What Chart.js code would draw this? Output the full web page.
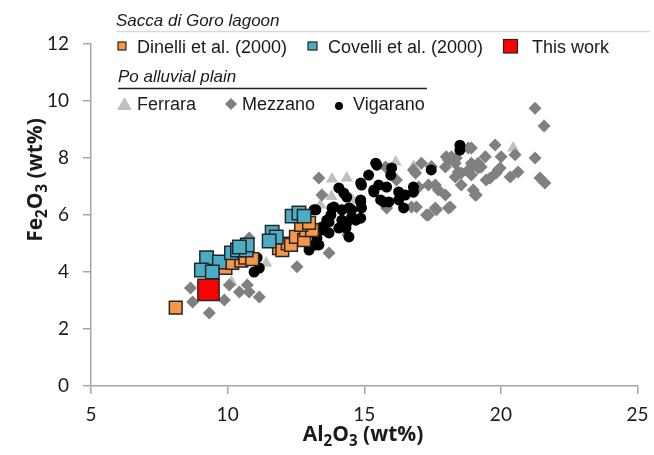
<!DOCTYPE html>
<html>
<head>
<meta charset="utf-8">
<script src="https://cdn.jsdelivr.net/npm/chart.js@4.4.0/dist/chart.umd.min.js"></script>
<style>
  html, body { margin: 0; padding: 0; background: #fff; }
  #wrap { width: 654px; height: 455px; }
</style>
</head>
<body>
<div id="wrap"><canvas id="geoChart" width="654" height="455"></canvas></div>
<script>
const xTicks = [5, 10, 15, 20, 25];
const yTicks = [0, 2, 4, 6, 8, 10, 12];

// [Al2O3, Fe2O3] in wt%
const dinelli = [[8.1,2.75],[9.92,4.14],[10.17,4.32],[10.5,4.4],[10.65,4.5],[10.9,4.45],[11.88,4.84],[12.0,4.77],
  [12.2,5.0],[12.32,4.95],[12.5,5.23],[12.8,5.12],[12.87,5.47],[13.09,5.47],[12.69,5.65],[12.98,5.72]];
const covelli = [[9.23,4.5],[9.7,4.35],[9.04,4.07],[9.44,4.0],[10.14,4.67],[10.36,4.77],[10.68,4.77],[10.72,4.95],
  [10.43,4.88],[11.63,5.4],[11.78,5.23],[11.52,5.09],[12.36,5.96],[12.61,6.07],[12.8,5.96]];
const thisWork = [[9.3,3.37]];
const ferrara = [[13.82,7.26],[14.36,7.3],[13.8,6.65],[16.15,7.86],[20.45,8.35],[14.6,6.5],[11.41,4.32],
  [10.14,3.65],[13.4,6.35],[16.8,7.7]];
const mezzano = [[9.33,2.56],[8.72,2.95],[8.64,3.44],[9.88,3.02],[10.43,3.3],[10.79,3.3],[11.16,3.12],[12.54,4.18],
  [10.79,5.19],[10.06,3.54],[10.72,3.54],[13.34,7.3],[13.71,4.67],[13.45,6.7],[14.4,5.3],
  [15.82,6.25],[16.91,6.28],[17.28,6.0],[17.6,6.25],[18.08,6.25],[17.97,6.7],[18.0,8.04],[18.37,8.0],[18.81,8.35],
  [18.92,7.82],[19.17,7.65],[19.43,8.04],[19.79,8.46],[19.61,7.3],[19.9,7.58],[18.99,6.88],[16.8,7.58],[17.09,7.82],
  [17.46,7.7],[18.33,7.33],[18.55,7.05],[17.6,7.05],[16.99,6.98],[15.78,7.68],[16.18,7.23],[16.88,7.47],[17.35,7.05],
  [17.71,6.88],[17.64,6.18],[17.35,6.0],[18.33,7.82],[18.55,7.47],[18.81,7.58],[19.17,7.82],[19.06,6.7],[18.08,7.93],
  [16.73,6.28],[21.25,9.75],[21.58,9.12],[18.92,8.35],[18.19,8.04],[20.01,8.04],[20.52,8.11],[21.25,8.0],[17.97,7.68],
  [18.44,7.51],[19.28,7.68],[19.97,7.65],[20.63,7.51],[20.34,7.33],[19.83,7.47],[19.46,7.23],[18.92,7.4],[21.61,7.12],
  [21.43,7.3],[19.1,6.7],[18.15,6.28]];
const vigarano = [[18.5,8.45],[18.5,8.28],[17.45,7.58],[15.42,7.82],[16.0,7.65],[15.97,7.4],[15.82,6.98],[15.35,6.88],
  [15.6,6.53],[14.9,7.05],[14.07,6.95],[14.36,6.63],[14.87,6.53],[16.26,6.81],[16.5,6.7],[16.8,6.98],[16.8,6.8],
  [16.26,6.53],[15.9,6.46],[16.44,6.25],[14.9,6.25],[14.44,6.25],[13.82,6.25],[14.54,5.93],[14.87,5.89],[14.18,5.82],
  [13.71,5.75],[13.52,5.47],[13.27,5.19],[13.34,4.95],[14.33,5.54],[14.44,5.23],[12.9,5.02],[13.16,6.18],[13.78,6.0],
  [15.46,7.75],[15.16,7.4],[15.53,7.05],[14.87,7.12],[14.25,6.77],[15.35,6.81],[15.71,6.46],[14.87,6.46],[13.89,6.28],
  [14.18,6.18],[14.54,6.18],[14.69,5.82],[14.36,5.72],[13.23,6.18],[10.97,4.0],[11.08,4.5],[11.16,4.14],[13.63,5.82],
  [13.45,5.58],[14.07,5.54],[13.71,5.37],[13.23,4.95],[12.98,4.77]];

const axisGray = '#a6a6a6';
const textColor = '#1a1a1a';

function toPoints(list) {
    return list.map(p => ({ x: p[0], y: p[1] }));
}

// text with subscripts, centered on x
function drawSubText(ctx, parts, x, y, size, family) {
    let total = 0;
    parts.forEach(p => {
        ctx.font = 'bold ' + (p[1] ? size * 0.72 : size) + 'px ' + family;
        total += ctx.measureText(p[0]).width;
    });
    let cx = x - total / 2;
    parts.forEach(p => {
        ctx.font = 'bold ' + (p[1] ? size * 0.72 : size) + 'px ' + family;
        ctx.fillText(p[0], cx, p[1] ? y + size * 0.22 : y);
        cx += ctx.measureText(p[0]).width;
    });
}

const overlay = {
    id: 'overlay',
    afterDraw(chart) {
        const ctx = chart.ctx;
        ctx.save();
        ctx.fillStyle = textColor;
        ctx.textAlign = 'left';
        ctx.textBaseline = 'alphabetic';

        // group headings
        ctx.font = 'italic 17px "Liberation Sans", Arial, sans-serif';
        ctx.fillText('Sacca di Goro lagoon', 116, 26);
        ctx.fillText('Po alluvial plain', 118, 82);
        ctx.strokeStyle = '#d9d9d9';
        ctx.lineWidth = 1.5;
        ctx.beginPath(); ctx.moveTo(116, 31.5); ctx.lineTo(650, 31.5); ctx.stroke();
        ctx.strokeStyle = '#222';
        ctx.lineWidth = 1.3;
        ctx.beginPath(); ctx.moveTo(118, 88.5); ctx.lineTo(427, 88.5); ctx.stroke();

        // row 1 markers
        ctx.strokeStyle = '#262626';
        ctx.lineWidth = 1.2;
        ctx.fillStyle = '#f79646';
        ctx.fillRect(118, 42, 8, 8); ctx.strokeRect(118, 42, 8, 8);
        ctx.fillStyle = '#4bacc6';
        ctx.fillRect(308, 42, 9, 8); ctx.strokeRect(308, 42, 9, 8);
        ctx.fillStyle = '#ff0000';
        ctx.fillRect(503.5, 39.5, 14, 13.5); ctx.strokeRect(503.5, 39.5, 14, 13.5);

        // row 2 markers
        ctx.fillStyle = '#c0c0c0';
        ctx.beginPath(); ctx.moveTo(124.5, 97); ctx.lineTo(132, 110); ctx.lineTo(117, 110); ctx.closePath(); ctx.fill();
        ctx.fillStyle = '#808080';
        ctx.beginPath(); ctx.moveTo(231, 98); ctx.lineTo(237, 104); ctx.lineTo(231, 110); ctx.lineTo(225, 104); ctx.closePath(); ctx.fill();
        ctx.fillStyle = '#000';
        ctx.beginPath(); ctx.arc(339, 106, 4, 0, Math.PI * 2); ctx.fill();

        ctx.fillStyle = textColor;
        ctx.font = '18px "Liberation Sans", Arial, sans-serif';
        ctx.fillText('Dinelli et al. (2000)', 137, 53);
        ctx.fillText('Covelli et al. (2000)', 328, 53);
        ctx.fillText('This work', 532, 53);
        ctx.fillText('Ferrara', 137, 110);
        ctx.fillText('Mezzano', 242, 110);
        ctx.fillText('Vigarano', 353, 110);

        // axis titles
        const fam = '"Open Sans", Lato, sans-serif';
        drawSubText(ctx, [['Al', false], ['2', true], ['O', false], ['3', true], [' (wt%)', false]], 363, 441, 21, fam);
        ctx.translate(42, 180);
        ctx.rotate(-Math.PI / 2);
        drawSubText(ctx, [['Fe', false], ['2', true], ['O', false], ['3', true], [' (wt%)', false]], 0, 0, 21, fam);
        ctx.restore();
    }
};

const tickFont = { family: 'Lato, "Open Sans", sans-serif', size: 19 };

new Chart(document.getElementById('geoChart'), {
    type: 'scatter',
    data: {
        datasets: [
            { label: 'This work', data: toPoints(thisWork), order: 0, pointStyle: 'rect',
              backgroundColor: '#ff0000', borderColor: '#262626', borderWidth: 1.5, pointRadius: 15 },
            { label: 'Covelli et al. (2000)', data: toPoints(covelli), order: 1, pointStyle: 'rect',
              backgroundColor: '#4bacc6', borderColor: '#262626', borderWidth: 1.5, pointRadius: 9.5 },
            { label: 'Dinelli et al. (2000)', data: toPoints(dinelli), order: 2, pointStyle: 'rect',
              backgroundColor: '#f79646', borderColor: '#262626', borderWidth: 1.5, pointRadius: 9 },
            { label: 'Vigarano', data: toPoints(vigarano), order: 3, pointStyle: 'circle',
              backgroundColor: '#000000', borderColor: '#000000', borderWidth: 0, pointRadius: 5.5 },
            { label: 'Mezzano', data: toPoints(mezzano), order: 4, pointStyle: 'rectRot',
              backgroundColor: '#808080', borderColor: '#808080', borderWidth: 0, pointRadius: 6.5 },
            { label: 'Ferrara', data: toPoints(ferrara), order: 5, pointStyle: 'triangle',
              backgroundColor: '#c0c0c0', borderColor: '#c0c0c0', borderWidth: 0, pointRadius: 7 }
        ]
    },
    options: {
        responsive: false,
        animation: false,
        layout: { padding: { left: 0, right: 14, top: 44, bottom: 0 } },
        plugins: {
            legend: { display: false },
            tooltip: { enabled: false }
        },
        scales: {
            x: {
                type: 'linear',
                min: xTicks[0],
                max: xTicks[xTicks.length - 1],
                afterBuildTicks: s => { s.ticks = xTicks.map(v => ({ value: v })); },
                afterFit: s => { s.height = 69; s.paddingLeft = 0; s.paddingRight = 0; },
                grid: { drawOnChartArea: false, drawTicks: true, tickLength: 8, color: axisGray, lineWidth: 1.5 },
                border: { color: axisGray, width: 1.5 },
                ticks: { font: tickFont, color: '#1a1a1a', padding: 9, maxRotation: 0 }
            },
            y: {
                type: 'linear',
                min: yTicks[0],
                max: yTicks[yTicks.length - 1],
                afterBuildTicks: s => { s.ticks = yTicks.map(v => ({ value: v })); },
                afterFit: s => { s.width = 91; s.paddingTop = 0; s.paddingBottom = 0; },
                grid: { drawOnChartArea: false, drawTicks: true, tickLength: 8, color: axisGray, lineWidth: 1.5 },
                border: { color: axisGray, width: 1.5 },
                ticks: { font: tickFont, color: '#1a1a1a', padding: 14 }
            }
        }
    },
    plugins: [overlay]
});
</script>
</body>
</html>
